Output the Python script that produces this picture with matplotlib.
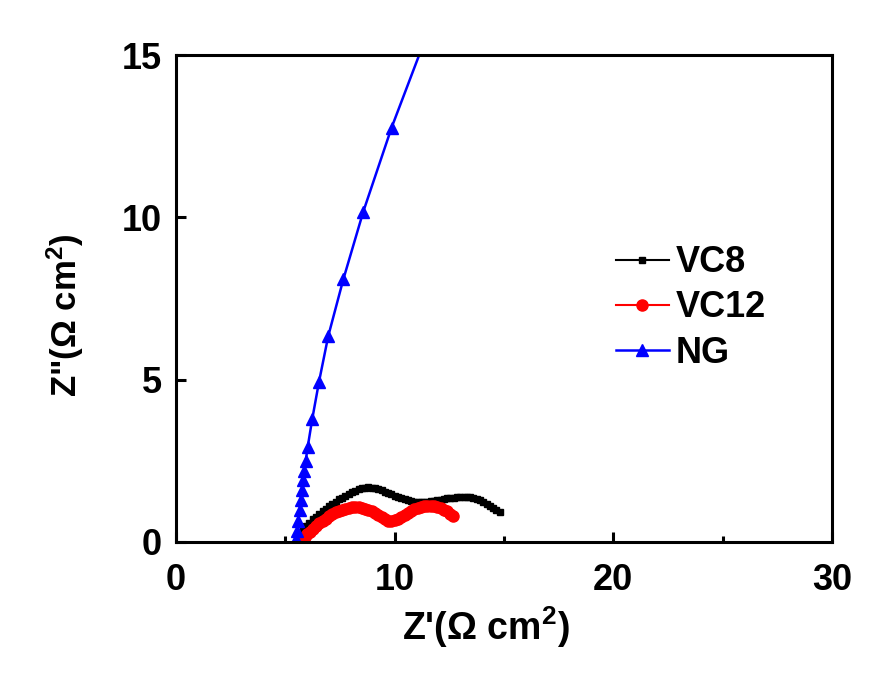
import matplotlib
matplotlib.use('Agg')
import matplotlib.pyplot as plt

plt.rcParams['font.family'] = ['Liberation Sans', 'DejaVu Sans']
plt.rcParams['font.weight'] = 'bold'
plt.rcParams['mathtext.fontset'] = 'custom'
plt.rcParams['mathtext.bf'] = 'Liberation Sans:bold'
plt.rcParams['mathtext.rm'] = 'Liberation Sans:bold'
plt.rcParams['mathtext.default'] = 'bf'

# VC8 (black squares)
vc8_x = [5.8, 5.95, 6.1, 6.25, 6.4, 6.55, 6.7, 6.85, 7.0, 7.15, 7.3, 7.45, 7.6, 7.75,
         7.9, 8.05, 8.2, 8.35, 8.5, 8.65, 8.8, 8.95, 9.1, 9.25, 9.4, 9.55, 9.7, 9.85,
         10.0, 10.15, 10.3, 10.45, 10.6, 10.75, 10.9, 11.05, 11.2, 11.35, 11.5, 11.65,
         11.8, 11.95, 12.1, 12.25, 12.4, 12.55, 12.7, 12.85, 13.0, 13.15, 13.3, 13.45,
         13.6, 13.75, 13.9, 14.05, 14.2, 14.35, 14.5, 14.65, 14.8]
vc8_y = [0.38, 0.5, 0.6, 0.7, 0.78, 0.86, 0.95, 1.03, 1.1, 1.17, 1.24, 1.31, 1.37, 1.43,
         1.48, 1.53, 1.58, 1.62, 1.65, 1.67, 1.68, 1.67, 1.65, 1.62, 1.59, 1.55, 1.51, 1.47,
         1.43, 1.39, 1.35, 1.31, 1.28, 1.26, 1.24, 1.23, 1.23, 1.23, 1.24, 1.25,
         1.26, 1.28, 1.3, 1.32, 1.34, 1.35, 1.37, 1.38, 1.39, 1.39, 1.39, 1.38,
         1.36, 1.33, 1.29, 1.24, 1.18, 1.12, 1.05, 0.98, 0.92]

# VC12 (red circles)
vc12_x = [5.8, 5.9, 6.0, 6.12, 6.25, 6.4, 6.55, 6.7, 6.85, 7.0, 7.15, 7.3, 7.45, 7.6,
          7.75, 7.9, 8.05, 8.2, 8.35, 8.5, 8.65, 8.8, 8.95, 9.1, 9.25, 9.4, 9.55, 9.7,
          9.85, 10.0, 10.15, 10.3, 10.45, 10.6, 10.75, 10.9, 11.05, 11.2, 11.35, 11.5,
          11.65, 11.8, 11.95, 12.1, 12.25, 12.4, 12.55, 12.68]
vc12_y = [0.08, 0.16, 0.24, 0.32, 0.4, 0.49, 0.57, 0.65, 0.72, 0.79, 0.85, 0.91, 0.96, 1.0,
          1.03, 1.06, 1.08, 1.09, 1.08, 1.06, 1.03, 0.99, 0.94, 0.88, 0.82, 0.76, 0.7, 0.66,
          0.65, 0.67, 0.71, 0.77, 0.84, 0.9, 0.96, 1.01, 1.05, 1.08, 1.1, 1.11,
          1.11, 1.1, 1.08, 1.05, 1.0, 0.94, 0.87, 0.8]

# NG (blue triangles)
ng_x = [5.5, 5.55, 5.6, 5.65, 5.7, 5.75, 5.8, 5.87, 5.93, 6.02, 6.23, 6.54, 6.96, 7.65,
        8.56, 9.86, 11.4]
ng_y = [0.1, 0.35, 0.65, 1.0, 1.3, 1.6, 1.9, 2.2, 2.5, 2.92, 3.79, 4.94, 6.34, 8.09,
        10.17, 12.77, 15.5]

fig = plt.figure(figsize=(8.9, 6.79), dpi=100)
ax = fig.add_axes([0.1978, 0.2018, 0.737, 0.717])

ax.plot(vc8_x, vc8_y, color='black', marker='s', markersize=5, lw=1.5, label='VC8')
ax.plot(vc12_x, vc12_y, color='red', marker='o', markersize=8, lw=1.5, label='VC12')
ax.plot(ng_x, ng_y, color='blue', marker='^', markersize=8, lw=1.8, label='NG')

ax.set_xlim(0, 30)
ax.set_ylim(0, 15)
ax.set_xticks([0, 10, 20, 30])
ax.set_xticks([5, 15, 25], minor=True)
ax.set_yticks([0, 5, 10, 15])

for s in ax.spines.values():
    s.set_linewidth(2.2)
ax.tick_params(which='major', direction='in', length=7, width=2.2, labelsize=26)
ax.tick_params(axis='x', which='major', pad=15)
ax.tick_params(axis='y', which='major', pad=10)
ax.tick_params(which='minor', direction='in', length=4, width=2.2)
for t in ax.get_xticklabels() + ax.get_yticklabels():
    t.set_fontweight('bold')

ax.set_xlabel("Z'(\u03a9 cm$^2$)", fontsize=27, fontweight='bold')
ax.set_ylabel('Z"(\u03a9 cm$^2$)', fontsize=25, fontweight='bold')
ax.xaxis.set_label_coords(0.473, -0.129)
ax.yaxis.set_label_coords(-0.137, 0.466)

ax.legend(loc='upper left', bbox_to_anchor=(0.648, 0.639), frameon=False, fontsize=26,
          handlelength=1.47, handletextpad=0.2, labelspacing=0.28, borderaxespad=0)

plt.savefig('out.png', dpi=100)
